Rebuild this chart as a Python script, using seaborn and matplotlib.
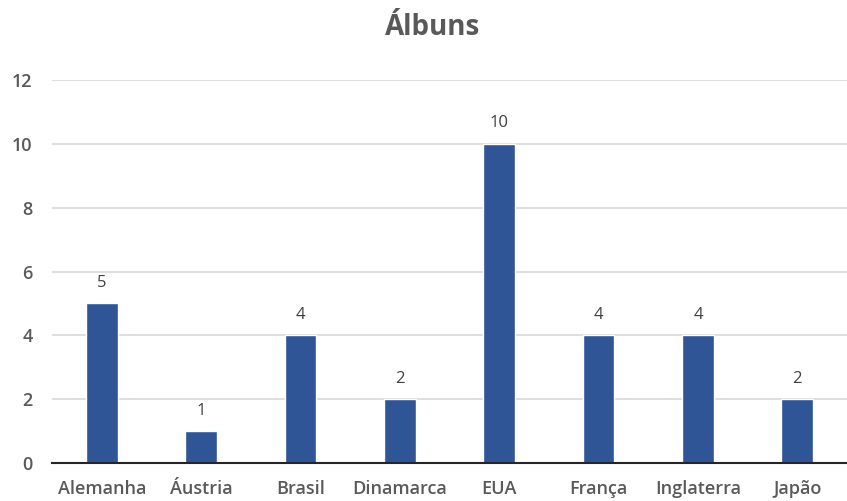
import matplotlib
matplotlib.use("Agg")
import matplotlib.pyplot as plt
import seaborn as sns
import pandas as pd
import numpy as np

# dados do gráfico
paises = ['Alemanha', 'Áustria', 'Brasil', 'Dinamarca', 'EUA', 'França', 'Inglaterra', 'Japão']
albuns = [5, 1, 4, 2, 10, 4, 4, 2]
y_ticks = [0, 2, 4, 6, 8, 10, 12]

df = pd.DataFrame({'pais': paises, 'albuns': albuns})

sns.set_theme(style='white')
plt.rcParams['font.family'] = ['Open Sans', 'DejaVu Sans']

fig = plt.figure(figsize=(8.47, 5.01), dpi=100)
ax = fig.add_axes([0.0614, 0.0758, 0.9386, 0.7645])

sns.barplot(data=df, x='pais', y='albuns', color='#2F5597', saturation=1, width=0.32, ax=ax)

# rótulos de dados
for i, v in enumerate(albuns):
    ax.annotate(str(v), (i, v), xytext=(0, 9), textcoords='offset points',
                ha='center', va='bottom', fontsize=12, color='#404040')

ax.set_ylim(0, 12)
ax.set_xlim(-0.5, len(paises) - 0.5)
ax.set_yticks(y_ticks)
ax.yaxis.grid(True, color='#D9D9D9', linewidth=1.2)
ax.set_axisbelow(True)
for s in ['top', 'right', 'left']:
    ax.spines[s].set_visible(False)
ax.spines['bottom'].set_color('#262626')
ax.spines['bottom'].set_linewidth(1.5)
ax.tick_params(axis='both', length=0, colors='#595959', labelsize=13)
ax.tick_params(axis='x', pad=12)
ax.tick_params(axis='y', pad=14)
for lab in ax.get_xticklabels() + ax.get_yticklabels():
    lab.set_fontweight('semibold')
ax.set_xlabel('')
ax.set_ylabel('')

fig.suptitle('Álbuns', x=0.511, y=0.975, fontsize=20, fontweight='bold', color='#595959')

fig.savefig('out.png', dpi=100)
